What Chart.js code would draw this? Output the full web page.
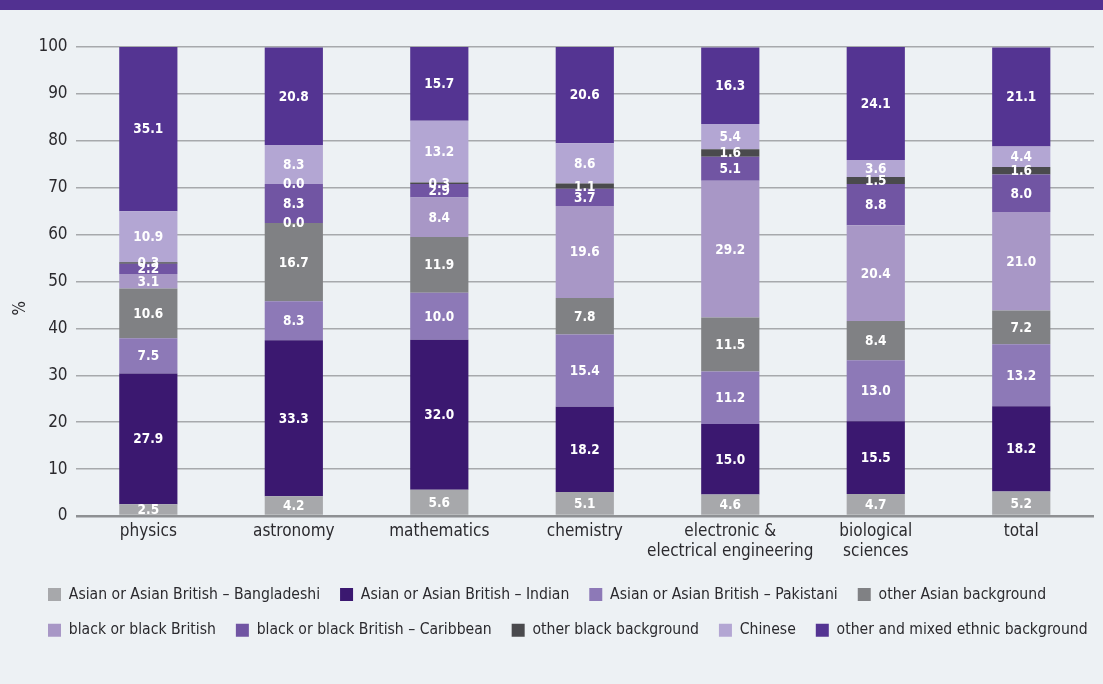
<!DOCTYPE html>
<html>
<head>
<meta charset="utf-8">
<script src="https://cdn.jsdelivr.net/npm/chart.js@4"></script>
<style>
html,body{margin:0;padding:0;background:#edf1f4;}
#bar{height:10px;background:#523191;}
#wrap{position:relative;width:1103px;height:674px;}
</style>
</head>
<body>
<div id="bar"></div>
<div id="wrap"><canvas id="c" width="1103" height="674"></canvas></div>
<script>
const categories = ['physics', 'astronomy', 'mathematics', 'chemistry', ['electronic &', 'electrical engineering'], ['biological', 'sciences'], 'total'];
const seriesNames = [
  'Asian or Asian British \u2013 Bangladeshi',
  'Asian or Asian British \u2013 Indian',
  'Asian or Asian British \u2013 Pakistani',
  'other Asian background',
  'black or black British',
  'black or black British \u2013 Caribbean',
  'other black background',
  'Chinese',
  'other and mixed ethnic background'
];
const bangladeshi   = [2.5, 4.2, 5.6, 5.1, 4.6, 4.7, 5.2];
const indian        = [27.9, 33.3, 32.0, 18.2, 15.0, 15.5, 18.2];
const pakistani     = [7.5, 8.3, 10.0, 15.4, 11.2, 13.0, 13.2];
const otherAsian    = [10.6, 16.7, 11.9, 7.8, 11.5, 8.4, 7.2];
const blackBritish  = [3.1, 0.0, 8.4, 19.6, 29.2, 20.4, 21.0];
const caribbean     = [2.2, 8.3, 2.9, 3.7, 5.1, 8.8, 8.0];
const otherBlack    = [0.3, 0.0, 0.3, 1.1, 1.6, 1.5, 1.6];
const chinese       = [10.9, 8.3, 13.2, 8.6, 5.4, 3.6, 4.4];
const otherMixed    = [35.1, 20.8, 15.7, 20.6, 16.3, 24.1, 21.1];
const yTicks = [0, 10, 20, 30, 40, 50, 60, 70, 80, 90, 100];

const seriesData = [bangladeshi, indian, pakistani, otherAsian, blackBritish, caribbean, otherBlack, chinese, otherMixed];
const colors = ['#a7a8ab', '#3b1870', '#8d79b7', '#808184', '#a897c6', '#7155a3', '#4a4a4d', '#b3a6d3', '#543492'];

const FONT = "'Liberation Sans Narrow', 'DejaVu Sans Condensed', 'Arial Narrow', sans-serif";
const TEXT = '#2b2a2e';

const labelPlugin = {
  id: 'segLabels',
  afterDatasetsDraw(chart) {
    const ctx = chart.ctx;
    ctx.save();
    ctx.font = "bold 13.5px " + FONT;
    ctx.fillStyle = '#ffffff';
    ctx.textAlign = 'center';
    ctx.textBaseline = 'middle';
    chart.data.datasets.forEach((ds, i) => {
      const meta = chart.getDatasetMeta(i);
      meta.data.forEach((el, j) => {
        const v = ds.data[j];
        const y = (el.y + el.base) / 2;
        ctx.fillText(v.toFixed(1), el.x, y + 1);
      });
    });
    ctx.restore();
  }
};

// let the legend rows run slightly past the right layout padding (as in the original)
const EXTRA = 40;
const legendWidthPlugin = {
  id: 'legendWidth',
  beforeLayout(chart) {
    const lg = chart.legend;
    if (lg && !lg._wide) {
      const origFit = lg._fitRows;
      lg._fitRows = function (...a) {
        const mw = this.maxWidth;
        this.maxWidth = mw + EXTRA;
        const r = origFit.apply(this, a);
        this.maxWidth = mw;
        return r;
      };
      const origDraw = lg._draw;
      lg._draw = function (...a) {
        const r0 = this.right;
        this.right = r0 + EXTRA;
        const r = origDraw.apply(this, a);
        this.right = r0;
        return r;
      };
      lg._wide = true;
    }
  }
};

new Chart(document.getElementById('c'), {
  type: 'bar',
  data: {
    labels: categories,
    datasets: seriesNames.map((n, i) => ({
      label: n,
      data: seriesData[i],
      backgroundColor: colors[i],
      borderWidth: 0,
      categoryPercentage: 1.0,
      barPercentage: 0.4
    }))
  },
  options: {
    responsive: false,
    animation: false,
    layout: { padding: { left: 28, right: 9, top: 37, bottom: 36 } },
    plugins: {
      legend: {
        position: 'bottom',
        align: 'start',
        labels: {
          boxWidth: 13, boxHeight: 13, padding: 20,
          color: TEXT,
          font: { family: FONT, size: 15.6 }
        }
      },
      tooltip: { enabled: false }
    },
    scales: {
      x: {
        stacked: true,
        grid: { display: false, drawTicks: false },
        border: { display: false },
        ticks: { color: TEXT, font: { family: FONT, size: 17, lineHeight: 1.2 }, padding: 5, maxRotation: 0, autoSkip: false }
      },
      y: {
        stacked: true,
        min: 0, max: 100,
        afterBuildTicks: (s) => { s.ticks = yTicks.map(v => ({ value: v })); },
        grid: {
          color: (c) => c.tick && c.tick.value === 0 ? '#8e9093' : '#a7a9ac',
          lineWidth: (c) => c.tick && c.tick.value === 0 ? 2.5 : 1.5,
          drawTicks: false
        },
        border: { display: false },
        ticks: { color: TEXT, font: { family: FONT, size: 17 }, padding: 8 },
        title: { display: true, text: '%\u00a0\u00a0\u00a0\u00a0\u00a0\u00a0\u00a0\u00a0\u00a0\u00a0\u00a0', color: TEXT, font: { family: FONT, size: 17 }, padding: { top: -18, bottom: 0 } }
      }
    }
  },
  plugins: [labelPlugin, legendWidthPlugin]
});
</script>
</body>
</html>
